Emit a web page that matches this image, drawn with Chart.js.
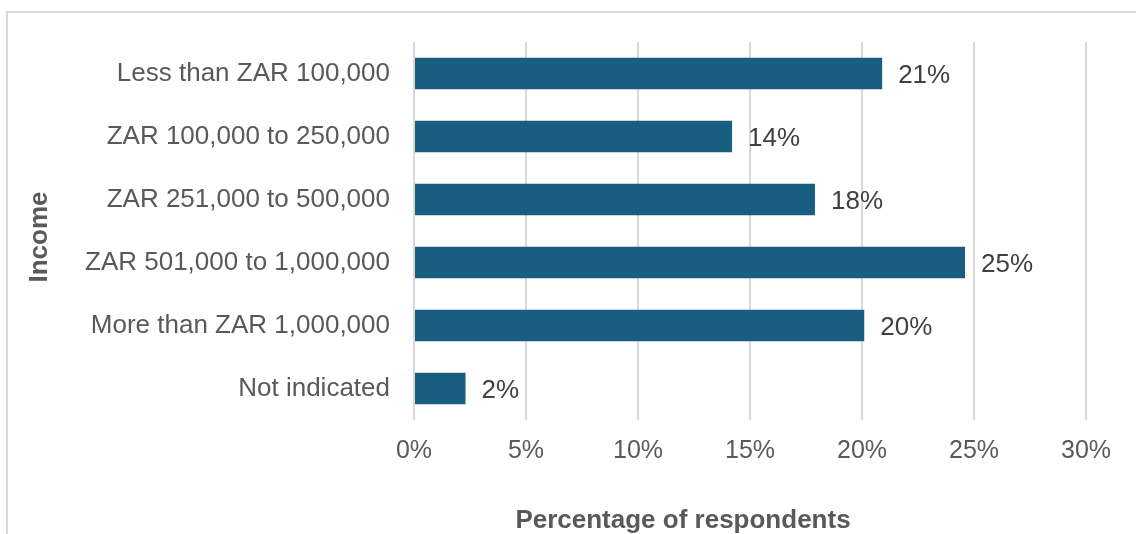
<!DOCTYPE html>
<html>
<head>
<meta charset="utf-8">
<script src="https://cdn.jsdelivr.net/npm/chart.js@4/dist/chart.umd.min.js"></script>
<style>
  body { margin: 0; background: #fff; overflow: hidden; }
  #wrap { position: relative; width: 1136px; height: 534px; }
  #frame { position: absolute; left: 6px; top: 11px; width: 1200px; height: 600px;
           border-left: 2px solid #d9d9d9; border-top: 2px solid #d9d9d9; }
  canvas { position: absolute; left: 0; top: 0; }
</style>
</head>
<body>
<div id="wrap">
  <div id="frame"></div>
  <canvas id="report" width="1136" height="534"></canvas>
</div>
<script>
const categories = [
    'Less than ZAR 100,000',
    'ZAR 100,000 to 250,000',
    'ZAR 251,000 to 500,000',
    'ZAR 501,000 to 1,000,000',
    'More than ZAR 1,000,000',
    'Not indicated'
];
const percentages = [20.9, 14.2, 17.9, 24.6, 20.1, 2.3];
const xTicks = [0, 5, 10, 15, 20, 25, 30];
const xTitle = 'Percentage of respondents';
const yTitle = 'Income';

const FONT = "'Liberation Sans', Arial, sans-serif";

// value labels at the end of each bar
const barLabels = {
    id: 'barLabels',
    afterDatasetsDraw(chart) {
        const ctx = chart.ctx;
        const meta = chart.getDatasetMeta(0);
        ctx.save();
        ctx.font = '26px ' + FONT;
        ctx.fillStyle = '#404040';
        ctx.textAlign = 'left';
        ctx.textBaseline = 'middle';
        meta.data.forEach((bar, i) => {
            ctx.fillText(Math.round(percentages[i]) + '%', bar.x + 16, bar.y + 2);
        });
        ctx.restore();
    }
};

// axis titles, placed like the original
const axisTitles = {
    id: 'axisTitles',
    afterDraw(chart) {
        const ctx = chart.ctx;
        ctx.save();
        ctx.font = 'bold 26px ' + FONT;
        ctx.fillStyle = '#595959';
        ctx.textAlign = 'center';
        ctx.textBaseline = 'middle';
        ctx.fillText(xTitle, 683, 521);
        ctx.translate(40, 237);
        ctx.rotate(-Math.PI / 2);
        ctx.fillText(yTitle, 0, 0);
        ctx.restore();
    }
};

const ctx = document.getElementById('report').getContext('2d');
let myChart = new Chart(ctx, {
    type: 'bar',
    data: {
        labels: categories,
        datasets: [{
            data: percentages,
            backgroundColor: '#175e80',
            borderWidth: 0,
            categoryPercentage: 1,
            barPercentage: 0.5
        }]
    },
    options: {
        indexAxis: 'y',
        responsive: false,
        animation: false,
        layout: { padding: { top: 42, right: 50, bottom: 0, left: 0 } },
        plugins: {
            legend: { display: false },
            tooltip: { enabled: false }
        },
        scales: {
            x: {
                min: 0,
                max: 30,
                afterBuildTicks: (scale) => { scale.ticks = xTicks.map(v => ({ value: v })); },
                ticks: {
                    callback: (v) => v + '%',
                    color: '#595959',
                    font: { family: FONT, size: 25 },
                    padding: 16,
                    maxRotation: 0
                },
                grid: { color: '#d9d9d9', lineWidth: 2, drawTicks: false },
                border: { display: false },
                afterFit: (scale) => { scale.height = 114; }
            },
            y: {
                ticks: {
                    color: '#595959',
                    font: { family: FONT, size: 26 },
                    padding: 24
                },
                grid: { display: false, drawTicks: false },
                border: { display: false },
                afterFit: (scale) => { scale.width = 414; }
            }
        }
    },
    plugins: [barLabels, axisTitles]
});
</script>
</body>
</html>
